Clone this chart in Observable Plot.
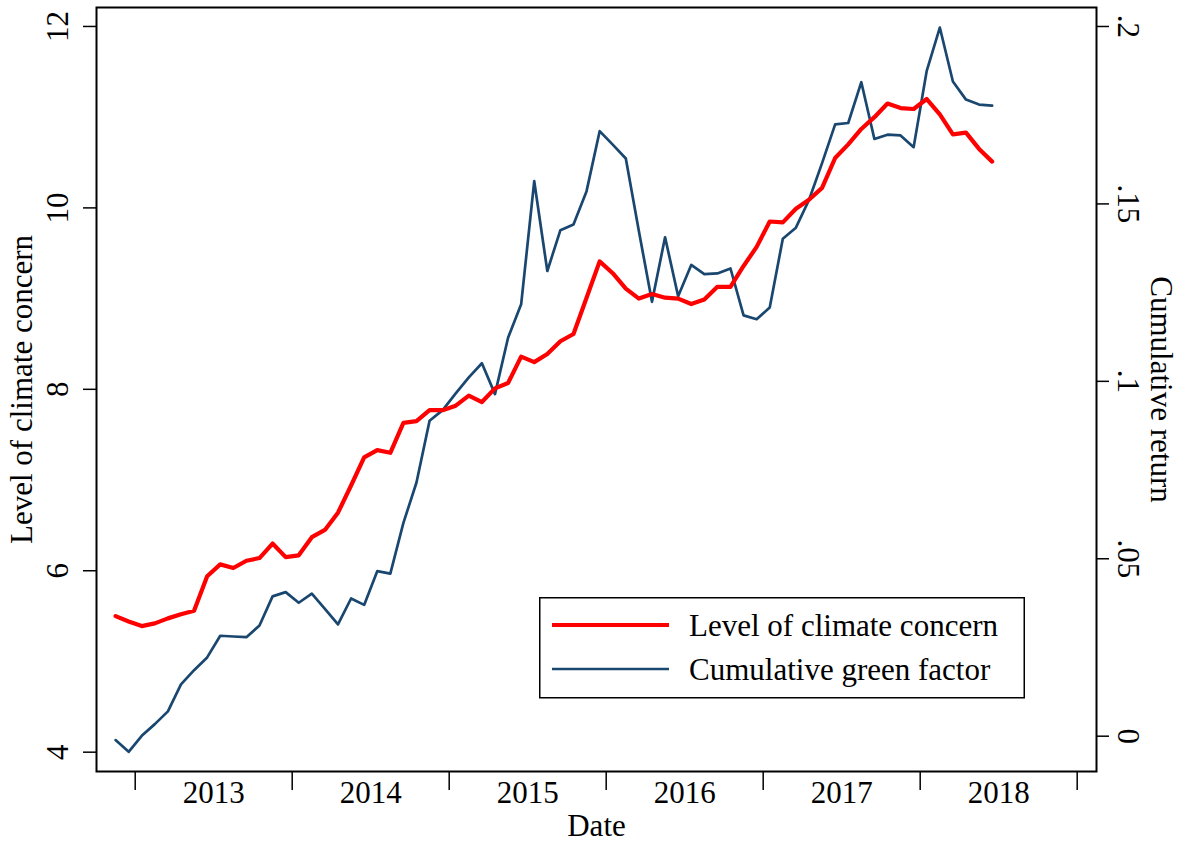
<!DOCTYPE html>
<html>
<head>
<meta charset="utf-8">
<script src="https://cdn.jsdelivr.net/npm/d3@7"></script>
<script src="https://cdn.jsdelivr.net/npm/@observablehq/plot@0.6"></script>
<style>
  html, body { margin: 0; padding: 0; background: #fff; }
  #wrap { position: relative; width: 1182px; height: 844px; font-family: "Liberation Serif", "Times New Roman", serif; }
  #legend { position: absolute; left: 539px; top: 597px; }
</style>
</head>
<body>
<div id="wrap"></div>
<script>
// Monthly observations: Nov 2012 – Jun 2018
const months = d3.utcMonths(new Date(Date.UTC(2012, 10, 1)), new Date(Date.UTC(2018, 6, 1)));

// Level of climate concern (left axis)
const concern = [
  5.50, 5.44, 5.39, 5.42, 5.475, 5.52, 5.56, 5.94, 6.07, 6.03,
  6.11, 6.14, 6.30, 6.15, 6.17, 6.37, 6.45, 6.64, 6.94, 7.25,
  7.33, 7.30, 7.63, 7.65, 7.77, 7.77, 7.82, 7.93, 7.86, 8.01,
  8.07, 8.36, 8.30, 8.39, 8.53, 8.61, 9.01, 9.41, 9.28, 9.11,
  9.00, 9.05, 9.01, 9.00, 8.94, 8.99, 9.13, 9.13, 9.36, 9.57,
  9.85, 9.84, 9.99, 10.09, 10.22, 10.55, 10.70, 10.87, 11.00, 11.15,
  11.10, 11.09, 11.20, 11.03, 10.81, 10.83, 10.65, 10.51
];

// Cumulative green factor return (right axis)
const green = [
  -0.0011, -0.0044, 0.0001, 0.0034, 0.0070, 0.0146, 0.0186, 0.0222, 0.0283, 0.0281,
  0.0279, 0.0312, 0.0394, 0.0406, 0.0376, 0.0402, 0.0359, 0.0315, 0.0388, 0.0370,
  0.0465, 0.0458, 0.0601, 0.0715, 0.0889, 0.0919, 0.0966, 0.1011, 0.1051, 0.0964,
  0.1123, 0.1217, 0.1564, 0.1311, 0.1426, 0.1442, 0.1536, 0.1705, 0.1667, 0.1628,
  0.1423, 0.1224, 0.1406, 0.1240, 0.1328, 0.1302, 0.1304, 0.1318, 0.1186, 0.1175,
  0.1208, 0.1402, 0.1433, 0.1511, 0.1615, 0.1724, 0.1728, 0.1843, 0.1683, 0.1695,
  0.1693, 0.1660, 0.1875, 0.1997, 0.1845, 0.1794, 0.1780, 0.1777
];

const leftTicks = [4, 6, 8, 10, 12];
const rightTicks = [0, 0.05, 0.1, 0.15, 0.2];
const yearTicks = [2013, 2014, 2015, 2016, 2017, 2018, 2019];
const yearLabels = [2013, 2014, 2015, 2016, 2017, 2018];

const seriesNames = ["Level of climate concern", "Cumulative green factor"];
const colors = ["#ff0000", "#1a476f"];

// scale domains
const xDomain = [2012.7535, 2019.123];
const yDomain = [3.787, 12.209];
const gDomain = [-0.00995, 0.20535];
const toLeft = g => yDomain[0] + (g - gDomain[0]) * (yDomain[1] - yDomain[0]) / (gDomain[1] - gDomain[0]);
const toRight = v => gDomain[0] + (v - yDomain[0]) * (gDomain[1] - gDomain[0]) / (yDomain[1] - yDomain[0]);
const fmtRight = v => {
  const r = Math.round(toRight(v) * 1000) / 1000;
  return r === 0 ? "0" : String(r).replace(/^0/, "");
};

const decYear = d => d.getUTCFullYear() + (d.getUTCMonth() + 0.5) / 12;
const dataC = months.map((d, i) => ({x: decYear(d), y: concern[i]}));
const dataG = months.map((d, i) => ({x: decYear(d), y: toLeft(green[i])}));

const FONT = "Liberation Serif, Times New Roman, serif";
const FS = 31;

const chart = Plot.plot({
  width: 1182,
  height: 844,
  marginLeft: 96,
  marginRight: 86,
  marginTop: 7,
  marginBottom: 73,
  style: {fontFamily: FONT, fontSize: FS + "px", background: "white", color: "black"},
  x: {domain: xDomain, type: "linear"},
  y: {domain: yDomain},
  marks: [
    Plot.line(dataG, {x: "x", y: "y", stroke: colors[1], strokeWidth: 2.7, strokeLinejoin: "round"}),
    Plot.line(dataC, {x: "x", y: "y", stroke: colors[0], strokeWidth: 4.2, strokeLinejoin: "round"}),
    Plot.frame({stroke: "black", strokeWidth: 2}),
    Plot.axisY(leftTicks, {anchor: "left", tickSize: 13, tickPadding: 16, tickRotate: -90,
      textAnchor: "middle", lineAnchor: "bottom", fontSize: FS, strokeWidth: 1.5,
      tickFormat: d => String(d), label: null}),
    Plot.axisY(rightTicks.map(toLeft), {anchor: "right", tickSize: 12, tickPadding: 9, tickRotate: 90,
      textAnchor: "middle", lineAnchor: "bottom", fontSize: FS, strokeWidth: 1.5, tickFormat: fmtRight, label: null}),
    Plot.axisX(yearTicks, {anchor: "bottom", tickSize: 19, strokeWidth: 1.5, tickFormat: () => "", label: null}),
    Plot.axisX(yearLabels.map(y => y + 0.5), {anchor: "bottom", tickSize: 0, tickPadding: 9, fontSize: FS,
      tickFormat: d => String(Math.floor(d)), label: null}),
    Plot.text(["Date"], {frameAnchor: "bottom", dy: 55, fontSize: FS, textAnchor: "middle", lineAnchor: "middle"}),
    Plot.text(["Level of climate concern"], {frameAnchor: "left", dx: -74, rotate: -90, fontSize: FS,
      textAnchor: "middle", lineAnchor: "middle"}),
    Plot.text(["Cumulative return"], {frameAnchor: "right", dx: 64, rotate: 90, fontSize: FS,
      textAnchor: "middle", lineAnchor: "middle"})
  ]
});

const wrap = document.getElementById("wrap");
wrap.appendChild(chart);

// Legend (inside plot region, lower right)
const lg = d3.create("svg")
  .attr("id", "legend")
  .attr("width", 486).attr("height", 102)
  .style("font-family", FONT);
lg.append("rect").attr("x", 0.75).attr("y", 0.75).attr("width", 484.5).attr("height", 100)
  .attr("fill", "white").attr("stroke", "black").attr("stroke-width", 1.5);
const rows = [{y: 28, w: 4.2}, {y: 72, w: 2.7}];
rows.forEach((r, i) => {
  lg.append("line").attr("x1", 13).attr("x2", 130).attr("y1", r.y).attr("y2", r.y)
    .attr("stroke", colors[i]).attr("stroke-width", r.w);
  lg.append("text").attr("x", 150).attr("y", r.y).attr("dy", "0.34em")
    .attr("font-size", FS).attr("fill", "black").text(seriesNames[i]);
});
wrap.appendChild(lg.node());
</script>
</body>
</html>
